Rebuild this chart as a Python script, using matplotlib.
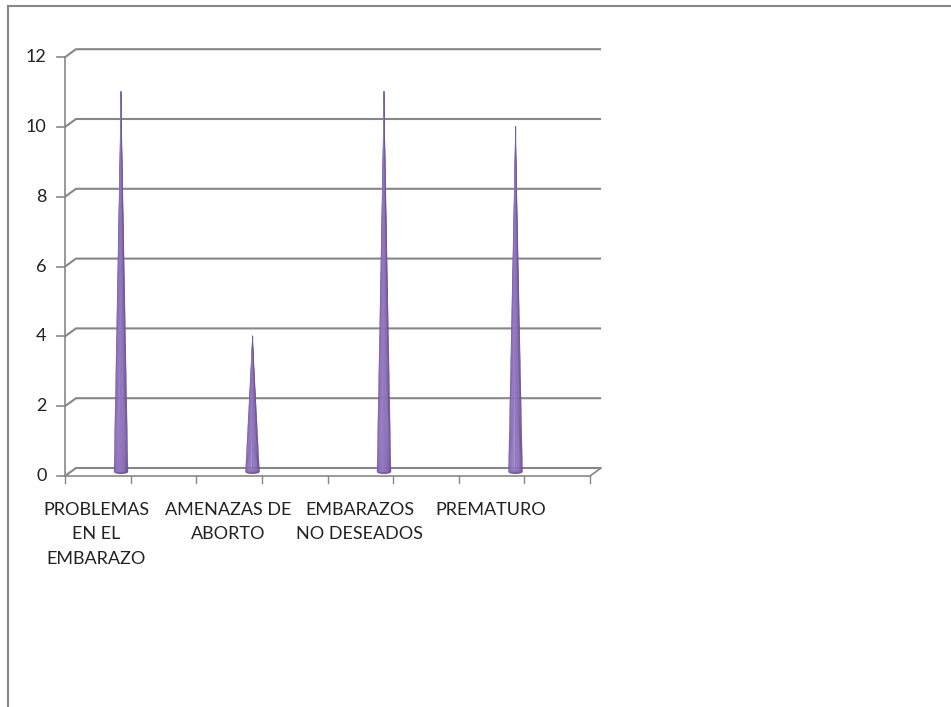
import matplotlib.pyplot as plt
import numpy as np
from matplotlib.patches import Polygon, Ellipse
from matplotlib.lines import Line2D
from matplotlib.colors import to_rgb

categories = ['PROBLEMAS\nEN EL\nEMBARAZO', 'AMENAZAS DE\nABORTO', 'EMBARAZOS\nNO DESEADOS', 'PREMATURO']
values = [11, 4, 11, 10]
y_ticks = [0, 2, 4, 6, 8, 10, 12]

# pixel layout of the 3d frame (one category step = 131.5 px, one unit = 34.9 px)
W, H = 951, 707
x0_px, step_px = 121, 131.5
y0_px, unit_px = 476, 34.9

plt.rcParams['font.family'] = ['Lato', 'DejaVu Sans']

fig = plt.figure(figsize=(W / 100, H / 100), dpi=100)
ax = fig.add_axes([0, 0, 1, 1])
ax.set_xlim(-x0_px / step_px, (W - x0_px) / step_px)
ax.set_ylim((y0_px - H) / unit_px, y0_px / unit_px)
ax.axis('off')

grid_col = '#878787'
# depth offset of the back wall, in data units
dx, dy = 11 / step_px, 8 / unit_px
left, right = -0.426, 3.567

# gridlines on the back wall with the oblique joint to the front axis
for v in y_ticks:
    ax.plot([left, left + dx, right + dx], [v, v + dy, v + dy], color=grid_col, lw=1.5,
            solid_capstyle='butt', zorder=1)
    ax.plot([left - 0.06, left], [v, v], color=grid_col, lw=1.2, zorder=1)
    ax.text(left - 0.14, v, str(v), ha='right', va='center', fontsize=13, color='#222222')

# front axes and floor edge
ax.plot([left, left], [0, 12], color=grid_col, lw=1.2, zorder=1)
ax.plot([left, right, right + dx], [0, 0, dy], color=grid_col, lw=1.2, zorder=1)
for k in range(9):
    xt = left + k * (right - left) / 8
    ax.plot([xt, xt], [0, -0.2], color=grid_col, lw=1.0, zorder=1)

# cones, shaded in vertical strips
dark, light = np.array(to_rgb('#563d7d')), np.array(to_rgb('#9276c0'))
half_w = 7 / step_px
n = 14
for i, v in enumerate(values):
    base = dy / 2
    tip = (i, v + base - 0.1)
    edges = np.linspace(i - half_w, i + half_w, n + 1)
    for k in range(n):
        t = (k + 0.5) / n
        shade = 0.5 + 0.5 * np.sin(np.pi * t ** 0.8)
        col = dark * (1 - shade) + light * shade
        if t > 0.85:
            col = col * 0.92
        ax.add_patch(Polygon([(edges[k], base), (edges[k + 1], base), tip], closed=True,
                             facecolor=col, edgecolor=col, lw=0.3, zorder=3))
    ax.add_patch(Ellipse((i, base), 2 * half_w, 4 / unit_px, facecolor='#7459a0',
                         edgecolor='none', zorder=2.9))

# category labels under the floor
for i, lab in enumerate(categories):
    ax.text(i - 0.186, -0.74, lab, ha='center', va='top', fontsize=13,
            linespacing=1.66, color='#222222')

# outer frame lines
fig.add_artist(Line2D([8 / W, 1], [1 - 6 / H, 1 - 6 / H], color='#888888', lw=1.5))
fig.add_artist(Line2D([8 / W, 8 / W], [0, 1 - 6 / H], color='#888888', lw=1.5))

fig.savefig('out.png', dpi=100)
